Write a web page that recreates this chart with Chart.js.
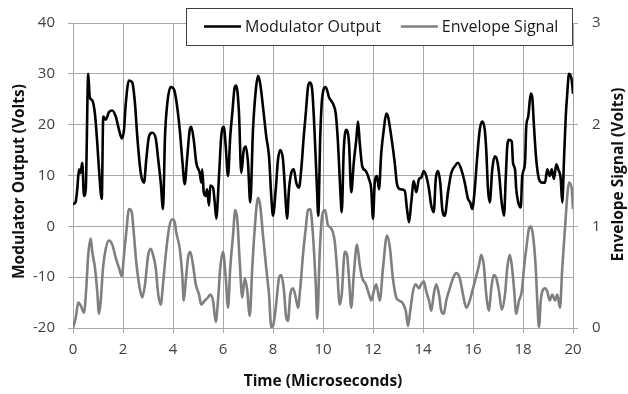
<!DOCTYPE html>
<html>
<head>
<meta charset="utf-8">
<script src="https://cdn.jsdelivr.net/npm/chart.js@4.4.1/dist/chart.umd.min.js"></script>
<style>
  html, body { margin: 0; padding: 0; background: #fff; }
  #wrap { width: 628px; height: 394px; }
</style>
</head>
<body>
<div id="wrap"><canvas id="chart" width="628" height="394"></canvas></div>
<script>
// Modulator Output, left axis (Volts) vs time (microseconds)
const modTime = [
  0, 0.1, 0.17, 0.24, 0.3, 0.37, 0.44, 0.51, 0.61, 0.67, 0.77, 0.88, 0.97, 1.04, 1.15, 1.21,
  1.31, 1.44, 1.57, 1.71, 1.84, 1.95, 2.04, 2.11, 2.24, 2.37, 2.48, 2.57, 2.71, 2.84, 2.93,
  3.04, 3.17, 3.31, 3.41, 3.51, 3.6, 3.68, 3.77, 3.91, 4.04, 4.13, 4.27, 4.37, 4.47, 4.56,
  4.67, 4.73, 4.83, 4.93, 5.07, 5.13, 5.17, 5.23, 5.31, 5.36, 5.44, 5.49, 5.6, 5.67, 5.73,
  5.84, 5.93, 6.03, 6.11, 6.2, 6.29, 6.37, 6.47, 6.53, 6.64, 6.73, 6.83, 6.91, 7, 7.09,
  7.2, 7.31, 7.4, 7.49, 7.6, 7.73, 7.84, 7.93, 8, 8.11, 8.2, 8.29, 8.4, 8.51, 8.56, 8.64,
  8.73, 8.83, 8.93, 9.04, 9.13, 9.23, 9.31, 9.4, 9.47, 9.57, 9.67, 9.76, 9.81, 9.89, 9.97,
  10.11, 10.24, 10.4, 10.51, 10.6, 10.69, 10.75, 10.83, 10.93, 11.04, 11.13, 11.23, 11.33,
  11.4, 11.47, 11.57, 11.71, 11.84, 11.93, 12, 12.07, 12.16, 12.24, 12.33, 12.43, 12.53,
  12.6, 12.73, 12.87, 12.96, 13.09, 13.27, 13.36, 13.44, 13.53, 13.63, 13.73, 13.84, 13.93,
  14.03, 14.13, 14.24, 14.33, 14.43, 14.51, 14.6, 14.69, 14.77, 14.87, 15, 15.13, 15.27,
  15.4, 15.53, 15.67, 15.8, 15.89, 15.97, 16.07, 16.16, 16.27, 16.37, 16.47, 16.53, 16.6,
  16.67, 16.77, 16.87, 16.96, 17.04, 17.15, 17.24, 17.31, 17.37, 17.44, 17.55, 17.6, 17.68,
  17.73, 17.81, 17.91, 17.97, 18.08, 18.13, 18.21, 18.31, 18.37, 18.44, 18.53, 18.64, 18.77,
  18.88, 18.97, 19.07, 19.15, 19.24, 19.33, 19.41, 19.51, 19.57, 19.64, 19.71, 19.77, 19.84,
  19.95, 20
];
const modVolts = [
  4.4, 4.7, 7.3, 11.2, 10.5, 12.5, 6, 7.3, 30, 25.4, 24.8, 22, 16.4, 11.2, 5.4, 21.6,
  21, 22.5, 22.8, 21.6, 19, 17.3, 19, 24.1, 28.7, 28.3, 24.1, 17.7, 10.5, 8.6, 13.1,
  17.7, 18.4, 17.3, 13.1, 8.6, 3.4, 17.7, 24.1, 27.4, 26.9, 24.8, 19, 13.1, 8.3, 13.1,
  19, 19.6, 17, 12.5, 10.5, 8.6, 11.2, 6.7, 6, 7.3, 4.1, 8, 7.6, 4.7, 1.5,
  9.9, 17.7, 19.6, 15.7, 9.9, 17.7, 22.2, 27.4, 27.7, 22.2, 10.5, 15, 15.7, 12.5, 4.7,
  19, 26.7, 29.6, 28, 23.5, 17.7, 13.8, 6, 2.1, 7.3, 13.1, 15, 13.1, 4.7, 1.5, 7.3,
  10.5, 11.2, 8.6, 7.6, 11.2, 17.7, 22.2, 27.4, 28.3, 26.7, 17.7, 7.3, 2.1, 17.7, 25.4,
  27.4, 25.4, 24.1, 22.2, 16.4, 7.3, 2.8, 15, 19, 16.4, 6.7, 12.5, 17,
  20.6, 16.4, 11.8, 10.9, 9.3, 7.3, 1.5, 8.6, 9.9, 7.3, 14.4, 19, 22.2,
  21.6, 17.7, 12.5, 8.3, 7.3, 7, 3.4, 0.8, 4.7, 8.9, 6.7, 9.3, 9.6,
  10.9, 9.9, 7.3, 4.1, 2.8, 9.3, 10.9, 8.6, 3.4, 2.1, 6.7, 10.5, 11.8,
  12.5, 11.2, 8.6, 5.4, 4.7, 3.4, 7.3, 13.1, 19, 20.6, 19, 15, 7.3,
  4.7, 11.2, 13.8, 13.1, 10.5, 4.5, 2.1, 9.5, 15.7, 17, 16.7, 12.5, 11.2,
  7.3, 4.7, 3.7, 9.9, 12.5, 19.6, 21.6, 26.1, 25.4, 19.6, 13.1, 9.3, 8.6,
  8.6, 11.2, 9.9, 11.2, 9.3, 12.2, 11.2, 9.3, 4.7, 13.1, 21.6, 26.1, 30,
  28.7, 26.1
];

// Envelope Signal, right axis (Volts)
const envTime = [
  0, 0.11, 0.21, 0.31, 0.44, 0.53, 0.61, 0.71, 0.77, 0.88, 0.97, 1.04, 1.11, 1.2, 1.31,
  1.44, 1.57, 1.71, 1.84, 1.95, 2.04, 2.13, 2.24, 2.35, 2.44, 2.53, 2.67, 2.77, 2.88,
  3.01, 3.11, 3.2, 3.31, 3.41, 3.51, 3.6, 3.71, 3.84, 3.97, 4.07, 4.13, 4.27, 4.37, 4.43,
  4.51, 4.6, 4.69, 4.8, 4.91, 5.04, 5.13, 5.27, 5.4, 5.49, 5.6, 5.71, 5.8, 5.89, 6,
  6.11, 6.2, 6.29, 6.4, 6.49, 6.57, 6.67, 6.77, 6.87, 6.96, 7.07, 7.17, 7.27, 7.4, 7.49,
  7.6, 7.73, 7.84, 7.93, 8, 8.11, 8.24, 8.33, 8.43, 8.53, 8.6, 8.69, 8.8, 8.91, 9,
  9.09, 9.2, 9.31, 9.4, 9.49, 9.6, 9.71, 9.77, 9.87, 9.97, 10.08, 10.2, 10.33, 10.47,
  10.56, 10.67, 10.75, 10.87, 10.96, 11.04, 11.13, 11.23, 11.36, 11.47, 11.57, 11.71,
  11.84, 11.93, 12.03, 12.13, 12.27, 12.4, 12.56, 12.67, 12.8, 12.93, 13.04, 13.17,
  13.31, 13.4, 13.49, 13.6, 13.71, 13.84, 13.93, 14.03, 14.13, 14.24, 14.33, 14.43,
  14.53, 14.64, 14.73, 14.83, 14.93, 15.07, 15.2, 15.33, 15.47, 15.6, 15.73, 15.87, 16,
  16.11, 16.24, 16.33, 16.43, 16.53, 16.64, 16.73, 16.83, 16.93, 17.04, 17.15, 17.28,
  17.37, 17.47, 17.55, 17.64, 17.73, 17.84, 17.95, 18.04, 18.13, 18.24, 18.31, 18.4,
  18.51, 18.57, 18.64, 18.71, 18.77, 18.88, 18.97, 19.07, 19.17, 19.28, 19.37, 19.48,
  19.57, 19.68, 19.77, 19.84, 19.95, 20
];
const envVolts = [
  0, 0.1, 0.25, 0.22, 0.15, 0.39, 0.72, 0.88, 0.75, 0.59, 0.36, 0.14, 0.27, 0.59, 0.78,
  0.86, 0.82, 0.69, 0.59, 0.51, 0.72, 0.94, 1.17, 1.14, 0.91, 0.65, 0.39, 0.3, 0.43,
  0.72, 0.78, 0.72, 0.59, 0.33, 0.23, 0.43, 0.72, 0.98, 1.07, 1.04, 0.94, 0.78, 0.52, 0.27,
  0.46, 0.69, 0.75, 0.62, 0.43, 0.33, 0.23, 0.27, 0.3, 0.33, 0.27, 0.06, 0.27, 0.59, 0.75,
  0.49, 0.2, 0.59, 0.91, 1.16, 1.07, 0.65, 0.3, 0.49, 0.39, 0.12, 0.59, 0.98, 1.28, 1.2,
  0.91, 0.59, 0.33, 0.01, 0.02, 0.2, 0.49, 0.52, 0.39, 0.1, 0.07, 0.33, 0.39, 0.3, 0.2,
  0.39, 0.72, 0.98, 1.16, 1.17, 0.91, 0.43, 0.09, 0.75, 1.11, 1.16, 1.01, 0.98, 0.85,
  0.59, 0.23, 0.33, 0.75, 0.72, 0.49, 0.2, 0.52, 0.82, 0.62, 0.49, 0.43,
  0.33, 0.27, 0.36, 0.43, 0.27, 0.59, 0.91, 0.8, 0.48, 0.3, 0.27, 0.25,
  0.17, 0.02, 0.17, 0.36, 0.43, 0.39, 0.43, 0.46, 0.36, 0.27, 0.17, 0.33,
  0.43, 0.33, 0.17, 0.14, 0.27, 0.39, 0.49, 0.54, 0.49, 0.33, 0.2, 0.27, 0.39,
  0.49, 0.62, 0.72, 0.62, 0.33, 0.17, 0.39, 0.52, 0.49, 0.36, 0.18, 0.33,
  0.59, 0.72, 0.62, 0.39, 0.14, 0.27, 0.36, 0.59, 0.78, 0.98, 1, 0.91,
  0.59, 0.27, 0.01, 0.27, 0.36, 0.39, 0.36, 0.27, 0.33, 0.27, 0.33, 0.2,
  0.59, 0.98, 1.3, 1.43, 1.37, 1.17
];

const leftTitle = 'Modulator Output (Volts)';
const rightTitle = 'Envelope Signal (Volts)';

const FONT = "'Open Sans', sans-serif";
const GRID = '#a8a8a8';
const TICK_COLOR = '#404040';
const TITLE_FONT = 'bold 15.5px ' + FONT;

function toPoints(xs, ys) {
  return xs.map((x, i) => ({ x: x, y: ys[i] }));
}

// both vertical titles read bottom-to-top, like the original
const sideTitles = {
  id: 'sideTitles',
  afterDraw(chart) {
    const ctx = chart.ctx;
    const area = chart.chartArea;
    const mid = (area.top + area.bottom) / 2;
    ctx.save();
    ctx.font = TITLE_FONT;
    ctx.fillStyle = '#111';
    ctx.textAlign = 'center';
    ctx.textBaseline = 'middle';
    [[leftTitle, 20, mid + 6], [rightTitle, chart.width - 9, mid - 1]].forEach(([text, x, y]) => {
      ctx.save();
      ctx.translate(x, y);
      ctx.rotate(-Math.PI / 2);
      ctx.fillText(text, 0, 0);
      ctx.restore();
    });
    ctx.restore();
  }
};

// legend drawn inside a box over the top right of the plot
const boxedLegend = {
  id: 'boxedLegend',
  afterDraw(chart) {
    const ctx = chart.ctx;
    const area = chart.chartArea;
    const sets = chart.data.datasets;
    ctx.save();
    ctx.font = '16px ' + FONT;
    const lineLen = 37, gap = 4, itemGap = 20, padL = 18, padR = 14;
    let contentW = 0;
    sets.forEach((ds, i) => {
      contentW += lineLen + gap + ctx.measureText(ds.label).width;
      if (i < sets.length - 1) contentW += itemGap;
    });
    const boxW = Math.round(padL + contentW + padR);
    const boxR = Math.round(area.right) - 1;
    const boxL = boxR - boxW;
    const boxT = 8, boxH = 37;
    ctx.fillStyle = '#fff';
    ctx.fillRect(boxL, boxT, boxW, boxH);
    ctx.strokeStyle = '#404040';
    ctx.lineWidth = 1;
    ctx.strokeRect(boxL + 0.5, boxT + 0.5, boxW, boxH);
    const cy = boxT + boxH / 2;
    let x = boxL + padL;
    sets.forEach(ds => {
      ctx.strokeStyle = ds.borderColor;
      ctx.lineWidth = ds.borderWidth;
      ctx.beginPath();
      ctx.moveTo(x, cy);
      ctx.lineTo(x + lineLen, cy);
      ctx.stroke();
      x += lineLen + gap;
      ctx.fillStyle = '#1a1a1a';
      ctx.textBaseline = 'middle';
      ctx.textAlign = 'left';
      ctx.fillText(ds.label, x, cy + 1);
      x += ctx.measureText(ds.label).width + itemGap;
    });
    ctx.restore();
  }
};

new Chart(document.getElementById('chart'), {
  type: 'line',
  data: {
    datasets: [
      {
        label: 'Modulator Output',
        data: toPoints(modTime, modVolts),
        yAxisID: 'y',
        borderColor: '#000000',
        borderWidth: 2.6,
        pointRadius: 0,
        cubicInterpolationMode: 'monotone'
      },
      {
        label: 'Envelope Signal',
        data: toPoints(envTime, envVolts),
        yAxisID: 'y2',
        borderColor: '#7f7f7f',
        borderWidth: 2.6,
        pointRadius: 0,
        cubicInterpolationMode: 'monotone'
      }
    ]
  },
  options: {
    responsive: false,
    animation: false,
    layout: { padding: { top: 19, left: 0, right: 0, bottom: 0 } },
    plugins: {
      legend: { display: false },
      tooltip: { enabled: false }
    },
    scales: {
      x: {
        type: 'linear',
        min: 0,
        max: 20,
        ticks: { stepSize: 2, color: TICK_COLOR, font: { family: FONT, size: 15 }, padding: 8, maxRotation: 0 },
        grid: { color: GRID, tickLength: 5 },
        border: { color: GRID },
        title: { display: true, text: 'Time (Microseconds)', color: '#111', font: { family: FONT, size: 15.5, weight: 'bold' }, padding: { top: 0, bottom: 3 } },
        afterFit: s => { s.height = 66; }
      },
      y: {
        position: 'left',
        min: -20,
        max: 40,
        ticks: { stepSize: 10, color: TICK_COLOR, font: { family: FONT, size: 15 }, padding: 13 },
        grid: { color: GRID, tickLength: 5 },
        border: { color: GRID },
        afterFit: s => { s.width = 73; }
      },
      y2: {
        position: 'right',
        min: 0,
        max: 3,
        ticks: { stepSize: 1, color: TICK_COLOR, font: { family: FONT, size: 15 }, padding: 14 },
        grid: { drawOnChartArea: false, color: GRID, tickLength: 5 },
        border: { color: GRID },
        afterFit: s => { s.width = 55; }
      }
    }
  },
  plugins: [sideTitles, boxedLegend]
});
</script>
</body>
</html>
